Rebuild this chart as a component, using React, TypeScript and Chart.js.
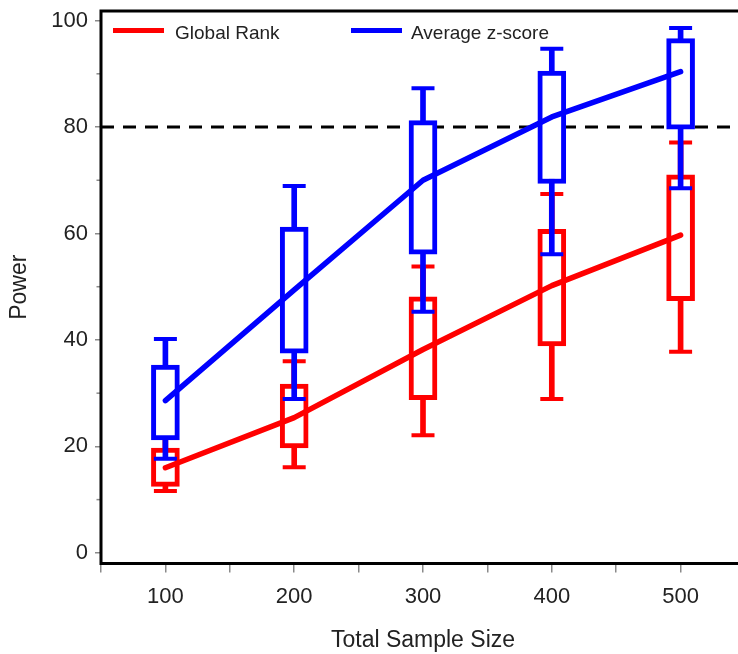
import React, { useEffect, useRef } from 'react';
import { Chart, registerables } from 'chart.js';

Chart.register(...registerables);

// ---- data ----
const sampleSizes = [100, 200, 300, 400, 500];
const seriesNames = ['Global Rank', 'Average z-score'];
const seriesColors = ['#ff0000', '#0000ff'];

const rankMin = [11.6, 16.1, 22.1, 28.9, 37.8];
const rankQ1 = [12.5, 19.7, 28.8, 38.9, 47.4];
const rankQ3 = [19.7, 31.7, 48.1, 60.8, 71.0];
const rankMax = [21.8, 36.0, 53.8, 67.4, 77.1];
const rankMean = [16.0, 25.4, 38.2, 50.2, 59.7];

const zMin = [17.7, 28.9, 45.3, 56.1, 68.5];
const zQ1 = [21.2, 37.5, 56.1, 69.4, 79.6];
const zQ3 = [35.3, 61.2, 81.2, 90.5, 96.6];
const zMax = [40.2, 68.9, 87.3, 94.7, 98.6];
const zMean = [28.6, 49.4, 70.0, 81.9, 90.4];

const threshold = 80;
const xRange = [50, 550];
const yRange = [-2, 101.8];
const xTickValues = [50, 100, 150, 200, 250, 300, 350, 400, 450, 500, 550];
const xTickLabels = ['', '100', '', '200', '', '300', '', '400', '', '500', ''];
const yTickValues = [0, 20, 40, 60, 80, 100];
const yMinorTickValues = [10, 30, 50, 70, 90];
const xTitle = 'Total Sample Size';
const yTitle = 'Power';

const FONT = "'Liberation Sans', Arial, sans-serif";
const TEXT = '#222222';
const TICK_GRAY = '#8a8a8a';

const pts = (ys: number[]) => sampleSizes.map((x, i) => ({ x, y: ys[i] }));
const ranges = (lo: number[], hi: number[]) => sampleSizes.map((x, i) => ({ x, y: [lo[i], hi[i]] }));
const caps = (lo: number[], hi: number[]) => [...pts(hi), ...pts(lo)];

function boxDatasets(color: string, mn: number[], q1: number[], q3: number[], mx: number[], baseOrder: number) {
  return [
    {
      type: 'bar' as const,
      label: 'whisker',
      data: ranges(mn, mx),
      backgroundColor: color,
      borderWidth: 0,
      barThickness: 5,
      grouped: false,
      order: baseOrder + 2,
    },
    {
      type: 'bar' as const,
      label: 'box',
      data: ranges(q1, q3),
      backgroundColor: '#ffffff',
      borderColor: color,
      borderWidth: 5,
      borderSkipped: false,
      barThickness: 28,
      grouped: false,
      order: baseOrder + 1,
    },
    {
      type: 'scatter' as const,
      label: 'caps',
      data: caps(mn, mx),
      showLine: false,
      pointStyle: 'line',
      pointRadius: 11.5,
      pointHoverRadius: 11.5,
      pointBorderWidth: 4,
      pointBorderColor: color,
      pointBackgroundColor: color,
      order: baseOrder,
    },
  ];
}

const chromePlugin = {
  id: 'chrome',
  afterDatasetsDraw(chart: any) {
    const { ctx, chartArea } = chart;
    const { left, top, right, bottom } = chartArea;
    const ys = chart.scales.y;
    ctx.save();
    ctx.strokeStyle = TICK_GRAY;
    ctx.lineWidth = 1.5;
    for (const v of yMinorTickValues) {
      const y = ys.getPixelForValue(v);
      ctx.beginPath();
      ctx.moveTo(left - 4.5, y);
      ctx.lineTo(left, y);
      ctx.stroke();
    }
    ctx.strokeStyle = '#000000';
    ctx.lineWidth = 3;
    ctx.strokeRect(left, top, right - left, bottom - top);
    ctx.restore();
  },
};

export default function App() {
  const ref = useRef<HTMLCanvasElement>(null);

  useEffect(() => {
    document.body.style.margin = '0';
    document.body.style.overflow = 'hidden';
    Chart.defaults.font.family = FONT;
    Chart.defaults.color = TEXT;

    const datasets: any[] = [
      {
        type: 'line',
        label: 'threshold',
        data: [
          { x: xRange[0], y: threshold },
          { x: xRange[1], y: threshold },
        ],
        borderColor: '#000000',
        borderWidth: 3,
        borderDash: [13, 9],
        pointRadius: 0,
        order: 20,
      },
      ...boxDatasets(seriesColors[0], rankMin, rankQ1, rankQ3, rankMax, 10),
      ...boxDatasets(seriesColors[1], zMin, zQ1, zQ3, zMax, 5),
      {
        type: 'line',
        label: seriesNames[0],
        data: pts(rankMean),
        borderColor: seriesColors[0],
        borderWidth: 5.5,
        borderCapStyle: 'round',
        borderJoinStyle: 'round',
        pointRadius: 0,
        order: 1,
      },
      {
        type: 'line',
        label: seriesNames[1],
        data: pts(zMean),
        borderColor: seriesColors[1],
        borderWidth: 5.5,
        borderCapStyle: 'round',
        borderJoinStyle: 'round',
        pointRadius: 0,
        order: 0,
      },
    ];

    const chart = new Chart(ref.current as HTMLCanvasElement, {
      type: 'bar',
      data: { datasets },
      plugins: [chromePlugin],
      options: {
        responsive: false,
        animation: false,
        events: [],
        layout: { autoPadding: false, padding: { top: 11, right: 0, bottom: 0, left: 0 } },
        plugins: {
          legend: { display: false },
          tooltip: { enabled: false },
        },
        scales: {
          x: {
            type: 'linear',
            min: xRange[0],
            max: xRange[1],
            offset: false,
            grid: {
              offset: false,
              drawOnChartArea: false,
              drawTicks: true,
              tickLength: 9,
              color: TICK_GRAY,
              lineWidth: 1.5,
            },
            border: { display: false },
            afterBuildTicks: (scale: any) => {
              scale.ticks = xTickValues.map((v) => ({ value: v }));
            },
            afterFit: (scale: any) => {
              scale.height = 90.5;
              scale.paddingLeft = 0;
              scale.paddingRight = 0;
            },
            ticks: {
              autoSkip: false,
              maxRotation: 0,
              padding: 11,
              color: TEXT,
              font: { size: 22, family: FONT },
              callback: (_v: any, i: number) => xTickLabels[i],
            },
            title: {
              display: true,
              text: xTitle,
              color: TEXT,
              font: { size: 23, family: FONT },
              padding: { top: 0, bottom: 0 },
            },
          },
          y: {
            type: 'linear',
            min: yRange[0],
            max: yRange[1],
            grid: {
              drawOnChartArea: false,
              drawTicks: true,
              tickLength: 6,
              color: TICK_GRAY,
              lineWidth: 1.5,
            },
            border: { display: false },
            afterBuildTicks: (scale: any) => {
              scale.ticks = yTickValues.map((v) => ({ value: v }));
            },
            afterFit: (scale: any) => {
              scale.width = 101;
              scale.paddingTop = 0;
              scale.paddingBottom = 0;
            },
            ticks: {
              padding: 7,
              color: TEXT,
              font: { size: 22, family: FONT },
              callback: (v: any) => String(v),
            },
            title: {
              display: true,
              text: yTitle,
              color: TEXT,
              font: { size: 23, family: FONT },
              padding: { top: 6, bottom: 0 },
            },
          },
        },
      },
    } as any);

    return () => chart.destroy();
  }, []);

  const legendLeft = [113, 351];
  const textLeft = [175, 411];

  return (
    <div style={{ position: 'relative', width: 738, height: 654, overflow: 'hidden', background: '#ffffff' }}>
      <canvas ref={ref} width={745} height={654} style={{ display: 'block', width: 745, height: 654 }} />
      {seriesNames.map((name, i) => (
        <React.Fragment key={name}>
          <div
            style={{
              position: 'absolute',
              left: legendLeft[i],
              top: 28.3,
              width: 51,
              height: 5,
              background: seriesColors[i],
            }}
          />
          <div
            style={{
              position: 'absolute',
              left: textLeft[i],
              top: 23,
              fontFamily: FONT,
              fontSize: 19,
              lineHeight: '19px',
              color: TEXT,
              whiteSpace: 'nowrap',
            }}
          >
            {name}
          </div>
        </React.Fragment>
      ))}
    </div>
  );
}
